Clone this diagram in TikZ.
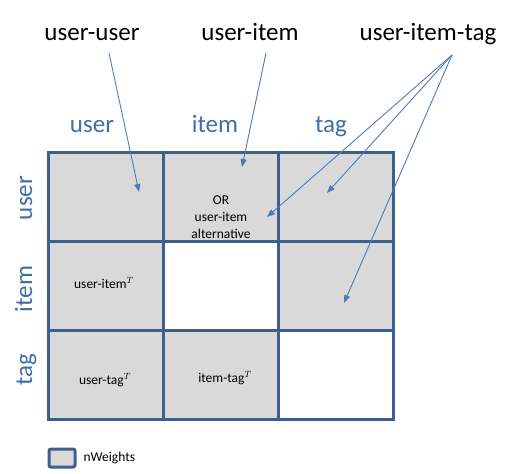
\documentclass[tikz,border=0pt]{standalone}
\usepackage{fontspec}
\setmainfont{Carlito}
\usetikzlibrary{arrows.meta}
\definecolor{gridblue}{HTML}{3C5F8E}
\definecolor{headblue}{HTML}{3F6EA8}
\definecolor{arrowblue}{HTML}{4C7BB7}
\definecolor{cellgray}{HTML}{D9D9D9}
\begin{document}
\begin{tikzpicture}[x=1pt, y=-1pt,
    cell/.style={draw=gridblue, line width=3pt, minimum width=115pt, minimum height=89pt, inner sep=0pt},
    full/.style={cell, fill=cellgray},
    empty/.style={cell, fill=white},
    head/.style={text=headblue, font=\fontsize{25}{30}\selectfont, anchor=base},
    title/.style={font=\fontsize{25}{30}\selectfont, anchor=base},
    entry/.style={font=\fontsize{13.5}{17}\selectfont, align=center},
    pointer/.style={arrowblue, line width=0.9pt, -{Triangle[length=8pt,width=6pt]}}]
    \useasboundingbox (0,0) rectangle (515,474);

    % Titel oben
    \node[title] (tuu) at (92,40) {user-user};
    \node[title] (tui) at (250,40) {user-item};
    \node[title] (tuit) at (428,40) {user-item-tag};

    % Spalten- und Zeilenkoepfe
    \node[head] (cu) at (92,132) {user};
    \node[head] (ci) at (215,132) {item};
    \node[head] (ct) at (331,132) {tag};
    \node[head, rotate=90] (ru) at (32,198) {user};
    \node[head, rotate=90] (ri) at (32,289) {item};
    \node[head, rotate=90] (rt) at (32,370) {tag};

    % Matrix
    \node[full] (uu) at (105.5,196.5) {};
    \node[full] (ui) at (220.5,196.5) {};
    \node[full] (ut) at (335.5,196.5) {};
    \node[full] (iu) at (105.5,285.5) {};
    \node[empty] (ii) at (220.5,285.5) {};
    \node[full] (it) at (335.5,285.5) {};
    \node[full] (tu) at (105.5,374.5) {};
    \node[full] (ti) at (220.5,374.5) {};
    \node[empty] (tt) at (335.5,374.5) {};

    % Eintraege
    \node[entry] (alt) at (221,217) {OR\\user-item\\alternative};
    \node[entry] (uiT) at (104,283) {user-item$^{T}$};
    \node[entry] (utT) at (105,380) {user-tag$^{T}$};
    \node[entry] (itT) at (225,378) {item-tag$^{T}$};

    % Pfeile
    \coordinate (suu) at (109,53);
    \coordinate (sui) at (266,53);
    \coordinate (suit) at (452,55);
    \coordinate (euu) at (139,192);
    \coordinate (eui) at (242,167);
    \coordinate (ealt) at (267,217);
    \coordinate (eut) at (327,193);
    \coordinate (eit) at (344,303);
    \draw[pointer] (suu) -- (euu);
    \draw[pointer] (sui) -- (eui);
    \draw[pointer] (suit) -- (ealt);
    \draw[pointer] (suit) -- (eut);
    \draw[pointer] (suit) -- (eit);

    % Legende
    \node[full, minimum width=26pt, minimum height=18pt, rounded corners=2pt] (key) at (62,458) {};
    \node[entry, anchor=west] (keytext) at (80,458) {nWeights};
\end{tikzpicture}
\end{document}
